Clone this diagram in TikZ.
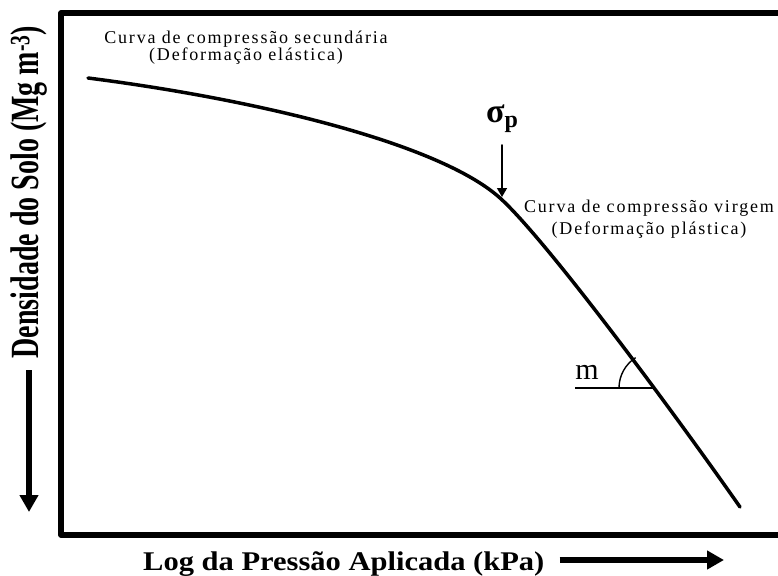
\documentclass[tikz,border=0pt]{standalone}
\usepackage{fontspec}
\setmainfont{Liberation Serif}
\newfontfamily\notefont[LetterSpace=10]{Liberation Serif}
\usetikzlibrary{arrows.meta}

\begin{document}
\begin{tikzpicture}[x=1pt,y=-1pt,line join=round,line cap=round,>=stealth,
    note/.style={font=\notefont\fontsize{18}{17}\selectfont,align=center,inner sep=0pt},
    axlabel/.style={font=\bfseries\fontsize{27}{27}\selectfont,inner sep=0pt},
    bigarrow/.style={line width=6pt,line cap=butt,-{Triangle[width=18pt,length=17pt]}}]
    \def \xmax{778};
    \def \ymax{575};
    \clip (0,0) rectangle (\xmax,\ymax);
    % frame, open to the right
    \draw[line width=5.5pt,line cap=butt] (\xmax+20,13) -- (61,13) -- (61,535) -- (\xmax+20,535);
    % compression curve
    \coordinate (bend) at (500,198);
    \draw[line width=3.5pt] (88,78) .. controls (260,100) and (440,144) .. (bend)
        .. controls (545,238.5) and (670,407) .. (740,507);
    \node[note] (seclab) at (246,48) {Curva de compressão secundária\\(Deformação elástica)};
    \node[note,font=\notefont\fontsize{18}{22}\selectfont] (virlab) at (649,219) {Curva de compressão virgem\\(Deformação plástica)};
    % preconsolidation pressure
    \node[font=\bfseries\fontsize{34}{34}\selectfont,inner sep=0pt] (sigp) at (502,119) {σ\raisebox{-0.3ex}{\fontsize{24}{24}\selectfont p}};
    \coordinate (sigtip) at (502,197);
    \draw[line width=1.4pt,-{Triangle[width=10pt,length=9pt]},shorten <=12pt] (sigp.south) -- (sigtip);
    % slope m
    \coordinate (mcut) at (655,388);
    \draw[line width=2.5pt,line cap=butt] (575,388) -- (mcut);
    \draw[line width=1.4pt] (mcut) ++(180:36) arc[start angle=180,end angle=237,radius=36];
    \node[font=\fontsize{30}{30}\selectfont,inner sep=0pt] (slope) at (587,372) {m};
    % axis labels
    \node[rotate=90,font=\bfseries\fontsize{40}{40}\selectfont,inner sep=0pt] (ylab) at (29,192)
        {\scalebox{0.7}[1]{Densidade do Solo (Mg m\textsuperscript{-3})}};
    \coordinate (ytip) at (29,512);
    \draw[bigarrow,shorten <=12pt] (ylab.west) -- (ytip);
    \node[axlabel,anchor=base west] (xlab) at (143,570) {\scalebox{1.13}[1]{Log da Pressão Aplicada (kPa)}};
    \coordinate (xtip) at (724,560);
    \draw[bigarrow,shorten <=15pt] (xlab.east |- xtip) -- (xtip);
\end{tikzpicture}
\end{document}
